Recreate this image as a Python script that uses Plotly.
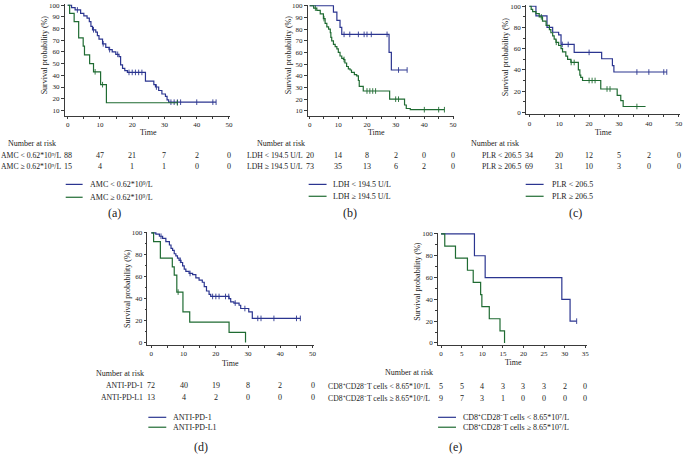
import plotly.graph_objects as go

W, H = 685, 454
FONT = "Liberation Serif, Times New Roman, serif"
BLUE = "#2b3590"
GREEN = "#1f6b32"
TXT = "#222222"
AX = "#3a3a3a"

# ---------------- data ----------------
# (a) AMC
a_lo_t = [0, 1.2, 2.3, 4, 5, 6, 6.7, 7.2, 7.7, 8.7, 9.2, 9.7, 10.8, 11.8, 12.8, 13.8, 14.9, 15.9, 16.4, 17, 17.7,
          18.5, 24.1, 26.7, 27.2, 28.2, 29.2, 30.3, 30.8, 31.3, 46]
a_lo_s = [100, 98, 96, 93, 91, 89, 86, 82, 79, 77, 74, 71, 67, 64, 62, 60, 58, 56, 49, 46, 44,
          42.5, 35, 32, 30, 27, 24, 22, 19, 17, 17]
a_lo_c = [3, 8, 11, 13, 15.5, 19, 20, 21, 22, 23, 27.5, 32, 33, 34, 35, 40, 45, 46]
a_hi_t = [0, 0.6, 2, 3.4, 4.8, 5.2, 6.8, 8, 10.2, 12, 34]
a_hi_s = [100, 93, 86, 72, 65, 57.5, 50, 43, 32, 16.5, 16.5]
a_hi_c = [8.5, 10.8, 34]
a_risk_t = [0, 10, 20, 30, 40, 50]
a_risk_lo = [88, 47, 21, 7, 2, 0]
a_risk_hi = [15, 4, 1, 1, 0, 0]

# (b) LDH
b_lo_t = [0, 8.3, 9.5, 10.6, 11.2, 27.7, 28.5, 34]
b_lo_s = [100, 94.5, 87.5, 81.5, 75.5, 60, 45, 45]
b_lo_c = [12, 14, 17, 19, 20, 21.5, 27, 31, 34]
b_hi_t = [0, 1.4, 2.5, 3.7, 4.8, 5.4, 6.0, 6.6, 7.2, 7.4, 7.7, 8.3, 8.9, 9.5, 10.0, 10.6, 11.2, 11.8, 12.3, 12.9,
          13.5, 14.1, 14.6, 15.6, 16.4, 17.0, 17.3, 18.7, 27.9, 33.1, 33.7, 35.1, 47]
b_hi_s = [100, 98, 96, 93, 89, 85, 82, 80, 77, 73, 70, 67, 65, 63, 60, 57, 55, 54, 51, 48,
          46, 45, 43, 41, 40, 36, 31, 27, 20, 15, 12, 11, 11]
b_hi_c = [2, 5, 12, 20, 21, 22, 23, 30, 31, 40, 45, 47]
b_risk_t = [0, 10, 20, 30, 40, 50]
b_risk_lo = [20, 14, 8, 2, 0, 0]
b_risk_hi = [73, 35, 13, 6, 2, 0]

# (c) PLR
c_lo_t = [0, 2.2, 5.9, 7.8, 9.8, 10.6, 15, 24.2, 27.8, 28.3, 46]
c_lo_s = [100, 91, 80, 75.5, 73, 64, 56.5, 50.5, 44, 38, 38]
c_lo_c = [11, 13, 20, 36, 40, 45, 46]
c_hi_t = [0, 0.6, 1.1, 2.2, 3.3, 4.4, 5.6, 6.7, 7.2, 7.8, 8.3, 8.9, 9.8, 10.6, 11.1, 12.2, 12.8, 13.9, 16.4,
          16.9, 17.2, 17.8, 23.9, 29.4, 30.6, 31.4, 38.9]
c_hi_s = [100, 97, 95, 93, 90, 86, 82, 78, 75, 72, 69, 66, 63, 60, 57, 53, 50, 47, 40,
          35, 33, 30, 22, 16, 11, 5.5, 5.5]
c_hi_c = [4, 9, 14, 15, 20, 21, 22, 26, 27, 36]
c_risk_t = [0, 10, 20, 30, 40, 50]
c_risk_lo = [34, 20, 12, 5, 2, 0]
c_risk_hi = [69, 31, 10, 3, 0, 0]

# (d) ANTI-PD-1 / ANTI-PD-L1
d_lo_t = [0, 1.4, 2.5, 3.5, 4.5, 5.6, 6.1, 6.6, 7.1, 7.6, 8.1, 8.6, 9.2, 9.7, 10.2, 10.7, 11.7, 12.8, 13.8, 14.8,
          15.8, 16.4, 17.1, 17.9, 18.4, 24.1, 24.6, 25.6, 27.2, 27.7, 30.2, 31.3, 46.2]
d_lo_s = [100, 99, 97, 95, 92, 89, 86, 84, 81, 79, 77, 75, 73, 70, 67, 65, 63, 62, 59, 57,
          55, 51, 47, 44, 42, 40, 37, 36, 34, 31, 28, 22, 22]
d_lo_c = [3, 9, 12, 19, 20, 21, 23, 24, 26, 29, 33, 34, 38, 45, 46.2]
d_hi_t = [0, 0.7, 2.8, 6.5, 7.1, 7.9, 9.8, 11.9, 24.1, 29.2]
d_hi_s = [100, 92, 77, 69, 61.5, 46, 28, 18.5, 9.2, 0]
d_hi_c = [8.3]
d_risk_t = [0, 10, 20, 30, 40, 50]
d_risk_lo = [72, 40, 19, 8, 2, 0]
d_risk_hi = [13, 4, 2, 0, 0, 0]

# (e) CD8+CD28- T cells
e_lo_t = [0, 8.1, 10.7, 29.3, 31.3, 32.9]
e_lo_s = [100, 80, 60, 40, 20, 20]
e_lo_c = [32.9]
e_hi_t = [0, 0.9, 3.5, 6.4, 7.8, 9.6, 9.9, 11.7, 14.3, 15.4]
e_hi_s = [100, 88.9, 77.8, 66.7, 55.6, 44.4, 33.3, 22.2, 11.1, 0]
e_hi_c = []
e_risk_t = [0, 5, 10, 15, 20, 25, 30, 35]
e_risk_lo = [5, 5, 4, 3, 3, 3, 2, 0]
e_risk_hi = [9, 7, 3, 1, 0, 0, 0, 0]

# labels
a_names = ["AMC &lt; 0.62*10⁹/L", "AMC ≥ 0.62*10⁹/L"]
b_names = ["LDH &lt; 194.5 U/L", "LDH ≥ 194.5 U/L"]
c_names = ["PLR &lt; 206.5", "PLR ≥ 206.5"]
d_names = ["ANTI-PD-1", "ANTI-PD-L1"]
e_names = ["CD8⁺CD28⁻T cells &lt; 8.65*10⁷/L", "CD8⁺CD28⁻T cells ≥ 8.65*10⁷/L"]

# ---------------- layout geometry (pixels) ----------------
panels = [
    dict(tag="(a)", lo=(a_lo_t, a_lo_s, a_lo_c), hi=(a_hi_t, a_hi_s, a_hi_c), names=a_names,
         rt=a_risk_t, rlo=a_risk_lo, rhi=a_risk_hi,
         x0=68, kx=3.24, xr=[-0.9, 50.3], y100=3.3, ky=1.178, yr=[5.5, 101],
         yt=list(range(10, 101, 10)), ydt_minor=None, xdt=10, xminor=5,
         ytitle=(45, 53), xtitle=(149, 132), nar=(32.5, 143), rows=(155, 166), lshift=-5,
         leg=(66, 83, 88, 184, 197), lab=(115, 213)),
    dict(tag="(b)", lo=(b_lo_t, b_lo_s, b_lo_c), hi=(b_hi_t, b_hi_s, b_hi_c), names=b_names,
         rt=b_risk_t, rlo=b_risk_lo, rhi=b_risk_hi,
         x0=311, kx=2.88, xr=[-0.6, 50.3], y100=3.8, ky=1.178, yr=[5.5, 101],
         yt=list(range(10, 101, 10)), ydt_minor=None, xdt=10, xminor=5,
         ytitle=(290, 53), xtitle=(378, 132), nar=(282, 143), rows=(155, 166), lshift=-5,
         leg=(310, 328, 332, 184, 196), lab=(352, 213)),
    dict(tag="(c)", lo=(c_lo_t, c_lo_s, c_lo_c), hi=(c_hi_t, c_hi_s, c_hi_c), names=c_names,
         rt=c_risk_t, rlo=c_risk_lo, rhi=c_risk_hi,
         x0=531.7, kx=3.0, xr=[-1.1, 50.3], y100=4.3, ky=1.07, yr=[-2, 101],
         yt=list(range(0, 101, 20)), ydt_minor=10, xdt=10, xminor=5,
         ytitle=(508, 55), xtitle=(606, 132), nar=(497.5, 143), rows=(155, 166), lshift=-5,
         leg=(528, 546, 552, 184, 196), lab=(578, 213)),
    dict(tag="(d)", lo=(d_lo_t, d_lo_s, d_lo_c), hi=(d_hi_t, d_hi_s, d_hi_c), names=d_names,
         rt=d_risk_t, rlo=d_risk_lo, rhi=d_risk_hi,
         x0=152, kx=3.24, xr=[-1.2, 50.3], y100=233, ky=1.105, yr=[-2.3, 101],
         yt=list(range(0, 101, 20)), ydt_minor=10, xdt=10, xminor=5,
         ytitle=(128, 289), xtitle=(232, 365), nar=(121, 375), rows=(387, 399), lshift=-6,
         leg=(149, 167, 172, 419, 429), lab=(202, 449)),
    dict(tag="(e)", lo=(e_lo_t, e_lo_s, e_lo_c), hi=(e_hi_t, e_hi_s, e_hi_c), names=e_names,
         rt=e_risk_t, rlo=e_risk_lo, rhi=e_risk_hi,
         x0=443, kx=4.14, xr=[-0.7, 35.4], y100=234, ky=1.1, yr=[-2, 101],
         yt=list(range(0, 101, 20)), ydt_minor=10, xdt=5, xminor=None,
         ytitle=(419, 282), xtitle=(516, 364), nar=(411, 374), rows=(388, 400), lshift=-9,
         leg=(440, 458, 463, 419, 429), lab=(458, 449)),
]


def px_x(p):
    return p / W


def px_y(p):
    return 1 - p / H


def surv_at(ts, ss, t):
    v = ss[0]
    for tt, s in zip(ts, ss):
        if tt <= t:
            v = s
    return v


fig = go.Figure()
layout = dict(width=W, height=H, margin=dict(l=0, r=0, t=0, b=0),
              paper_bgcolor="white", plot_bgcolor="white", showlegend=False,
              font=dict(family=FONT, color=TXT, size=8))
annotations = []
shapes = []

for i, p in enumerate(panels, start=1):
    xa = "x" if i == 1 else f"x{i}"
    ya = "y" if i == 1 else f"y{i}"
    xl = "xaxis" if i == 1 else f"xaxis{i}"
    yl = "yaxis" if i == 1 else f"yaxis{i}"

    left = p["x0"] + p["xr"][0] * p["kx"]
    right = p["x0"] + p["xr"][1] * p["kx"]
    top = p["y100"] - (p["yr"][1] - 100) * p["ky"]
    bot = p["y100"] + (100 - p["yr"][0]) * p["ky"]

    xdict = dict(domain=[px_x(left), px_x(right)], range=p["xr"], anchor=ya,
                 showline=True, linecolor=AX, linewidth=0.8, showgrid=False, zeroline=False,
                 ticks="outside", ticklen=2, tickwidth=0.8, tickcolor=AX,
                 tickmode="linear", tick0=0, dtick=p["xdt"],
                 tickfont=dict(family=FONT, size=7, color=TXT))
    if p["xminor"]:
        xdict["minor"] = dict(ticks="outside", ticklen=2, dtick=p["xminor"], tick0=0, tickcolor=AX)
    ydict = dict(domain=[px_y(bot), px_y(top)], range=p["yr"], anchor=xa,
                 showline=True, linecolor=AX, linewidth=0.8, showgrid=False, zeroline=False,
                 ticks="outside", ticklen=3, tickwidth=0.8, tickcolor=AX,
                 tickvals=p["yt"], tickfont=dict(family=FONT, size=7, color=TXT))
    if p["ydt_minor"]:
        ydict["minor"] = dict(ticks="outside", ticklen=2, dtick=p["ydt_minor"], tick0=0, tickcolor=AX)
    layout[xl] = xdict
    layout[yl] = ydict

    for (ts, ss, cs), col in ((p["lo"], BLUE), (p["hi"], GREEN)):
        fig.add_trace(go.Scatter(x=ts, y=ss, mode="lines", line=dict(color=col, width=1.2, shape="hv"),
                                 xaxis=xa, yaxis=ya, hoverinfo="skip"))
        if cs:
            fig.add_trace(go.Scatter(x=cs, y=[surv_at(ts, ss, c) for c in cs], mode="markers",
                                     marker=dict(symbol="line-ns", size=4, line=dict(color=col, width=0.9)),
                                     xaxis=xa, yaxis=ya, hoverinfo="skip"))

    f8 = dict(family=FONT, size=8, color=TXT)
    frow = dict(family=FONT, size=7.7, color=TXT)
    # axis titles
    annotations.append(dict(x=px_x(p["ytitle"][0]), y=px_y(p["ytitle"][1]), xref="paper", yref="paper",
                            text="Survival probability (%)", textangle=-90, showarrow=False,
                            font=f8, xanchor="center", yanchor="middle"))
    annotations.append(dict(x=px_x(p["xtitle"][0]), y=px_y(p["xtitle"][1]), xref="paper", yref="paper",
                            text="Time", showarrow=False, font=f8, xanchor="center", yanchor="middle"))
    # number at risk
    annotations.append(dict(x=px_x(p["nar"][0]), y=px_y(p["nar"][1]), xref="paper", yref="paper",
                            text="Number at risk", showarrow=False, font=f8,
                            xanchor="center", yanchor="middle"))
    for row_y, name, vals in ((p["rows"][0], p["names"][0], p["rlo"]), (p["rows"][1], p["names"][1], p["rhi"])):
        annotations.append(dict(x=0, y=px_y(row_y), xref=xa, yref="paper", text=name, showarrow=False,
                                font=frow, xanchor="right", yanchor="middle", xshift=p["lshift"]))
        for t, v in zip(p["rt"], vals):
            annotations.append(dict(x=t, y=px_y(row_y), xref=xa, yref="paper", text=str(v), showarrow=False,
                                    font=f8, xanchor="center", yanchor="middle"))
    # legend
    lx0, lx1, tx, ly1, ly2 = p["leg"]
    for ly, col, name in ((ly1, BLUE, p["names"][0]), (ly2, GREEN, p["names"][1])):
        shapes.append(dict(type="line", xref="paper", yref="paper", x0=px_x(lx0), x1=px_x(lx1),
                           y0=px_y(ly), y1=px_y(ly), line=dict(color=col, width=1.2)))
        annotations.append(dict(x=px_x(tx), y=px_y(ly), xref="paper", yref="paper", text=name, showarrow=False,
                                font=f8, xanchor="left", yanchor="middle"))
    # panel tag
    annotations.append(dict(x=px_x(p["lab"][0]), y=px_y(p["lab"][1]), xref="paper", yref="paper",
                            text=p["tag"], showarrow=False, font=dict(family=FONT, size=12, color=TXT),
                            xanchor="center", yanchor="middle"))

layout["annotations"] = annotations
layout["shapes"] = shapes
fig.update_layout(**layout)
fig.write_html("out.html", config={"displayModeBar": False},
               post_script="document.body.style.margin='0';document.body.style.overflow='hidden';")
